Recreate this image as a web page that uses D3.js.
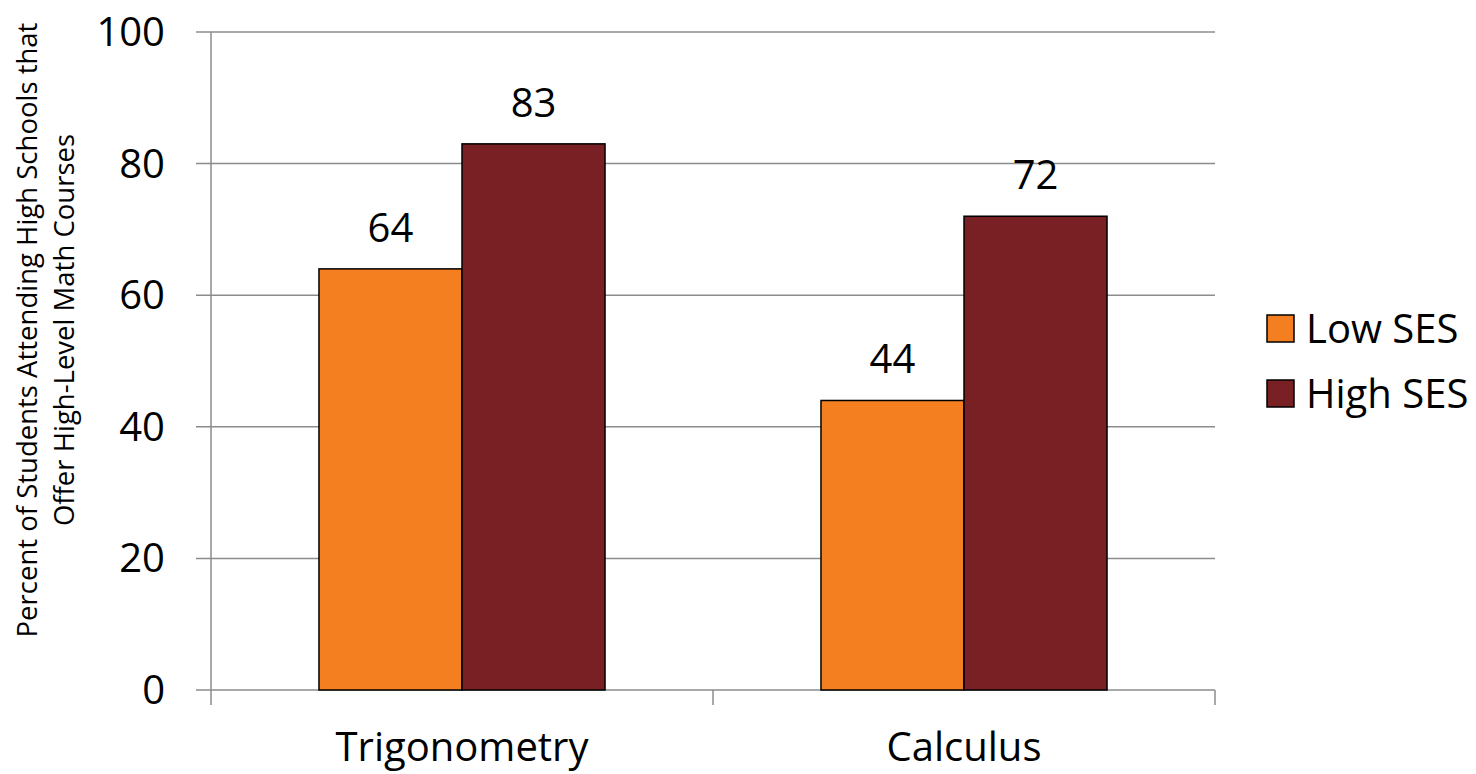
<!DOCTYPE html>
<html><head><meta charset="utf-8">
<script src="https://cdn.jsdelivr.net/npm/d3@7"></script>
<style>body{margin:0;background:#fff;} svg{display:block;} text{font-family:"Open Sans",sans-serif;fill:#000;}</style>
</head><body>
<svg id="c" width="1476" height="774"></svg>
<script>
const categories = ["Trigonometry", "Calculus"];
const seriesNames = ["Low SES", "High SES"];
const lowSES = [64, 44];
const highSES = [83, 72];
const yTicks = [0, 20, 40, 60, 80, 100];
const colors = ["#F37F21", "#782024"];
const yTitle = ["Percent of Students Attending High Schools that", "Offer High-Level Math Courses"];

const svg = d3.select("#c");
const L = 211, R = 1215, T = 32, B = 690;
const x = d3.scaleBand().domain(categories).range([L, R]).paddingInner(0).paddingOuter(0);
const xs = d3.scaleBand().domain(seriesNames).range([0, x.bandwidth()]).paddingInner(0).paddingOuter(0.755);
const y = d3.scaleLinear().domain([0, 100]).range([B, T]);

// gridlines
svg.append("g").selectAll("line").data(yTicks).join("line")
  .attr("x1", L - 15).attr("x2", R).attr("y1", d => y(d)).attr("y2", d => y(d))
  .attr("stroke", "#8c8c8c").attr("stroke-width", 1.5);
// y axis line
svg.append("line").attr("x1", L).attr("x2", L).attr("y1", T).attr("y2", B).attr("stroke", "#8c8c8c").attr("stroke-width", 1.5);
// x category ticks
const xt = [L, ...categories.map(c => x(c) + x.bandwidth())];
svg.append("g").selectAll("line").data(xt).join("line")
  .attr("x1", d => d).attr("x2", d => d).attr("y1", B).attr("y2", B + 15)
  .attr("stroke", "#8c8c8c").attr("stroke-width", 1.5);

// y tick labels
svg.append("g").selectAll("text").data(yTicks).join("text")
  .attr("x", L - 46).attr("y", d => y(d) + 14)
  .attr("text-anchor", "end").attr("font-size", 40).text(d => d);

// x labels
svg.append("g").selectAll("text").data(categories).join("text")
  .attr("x", d => x(d) + x.bandwidth() / 2).attr("y", 761)
  .attr("text-anchor", "middle").attr("font-size", 40).text(d => d);

// bars
const rows = categories.map((c, i) => ({c, vals: [lowSES[i], highSES[i]]}));
const g = svg.append("g").selectAll("g").data(rows).join("g").attr("transform", d => `translate(${x(d.c)},0)`);
g.selectAll("rect").data(d => d.vals.map((v, j) => ({v, s: seriesNames[j], j}))).join("rect")
  .attr("x", d => xs(d.s)).attr("width", xs.bandwidth())
  .attr("y", d => y(d.v)).attr("height", d => y(0) - y(d.v))
  .attr("fill", d => colors[d.j]).attr("stroke", "#000").attr("stroke-width", 1.5);
g.selectAll("text").data(d => d.vals.map((v, j) => ({v, s: seriesNames[j], j}))).join("text")
  .attr("x", d => xs(d.s) + xs.bandwidth() / 2).attr("y", d => y(d.v) - 27)
  .attr("text-anchor", "middle").attr("font-size", 40).text(d => d.v);

// y title
const yt = svg.append("text").attr("transform", "translate(0,330) rotate(-90)").attr("text-anchor", "middle").attr("font-size", 27.5);
yt.append("tspan").attr("x", 0).attr("y", 37).text(yTitle[0]);
yt.append("tspan").attr("x", 0).attr("y", 74).text(yTitle[1]);

// legend
const lg = svg.append("g").selectAll("g").data(seriesNames).join("g")
  .attr("transform", (d, i) => `translate(1267,${315 + i * 65})`);
lg.append("rect").attr("width", 27).attr("height", 27).attr("fill", (d, i) => colors[i]).attr("stroke", "#000").attr("stroke-width", 1.5);
lg.append("text").attr("x", 39).attr("y", 28).attr("font-size", 40).text(d => d);
</script>
</body></html>
